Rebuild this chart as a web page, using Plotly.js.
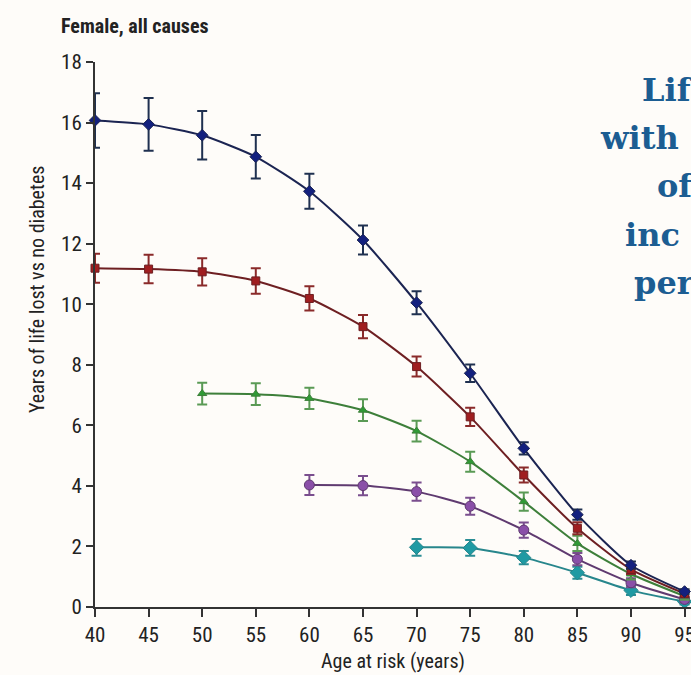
<!DOCTYPE html>
<html>
<head>
<meta charset="utf-8">
<script src="https://cdn.plot.ly/plotly-3.0.1.min.js"></script>
<style>
  html, body { margin: 0; padding: 0; background: #fefcf9; }
  #chart { width: 691px; height: 675px; }
</style>
</head>
<body>
<div id="chart"></div>
<script>
// Years of life lost vs no diabetes, women, by age at diabetes onset
const ageAll = [40, 45, 50, 55, 60, 65, 70, 75, 80, 85, 90, 95];

const onset40 = [16.07, 15.94, 15.58, 14.87, 13.73, 12.12, 10.05, 7.72, 5.24, 3.05, 1.38, 0.51];
const onset40Err = [0.90, 0.87, 0.80, 0.72, 0.58, 0.48, 0.38, 0.29, 0.20, 0.17, 0.12, 0.08];

const onset40b = [11.19, 11.16, 11.07, 10.77, 10.19, 9.26, 7.94, 6.28, 4.36, 2.60, 1.24, 0.44];
const onset40bErr = [0.48, 0.47, 0.45, 0.42, 0.40, 0.38, 0.33, 0.30, 0.25, 0.20, 0.15, 0.10];

const ageFrom50 = [50, 55, 60, 65, 70, 75, 80, 85, 90, 95];
const onset50 = [7.05, 7.03, 6.89, 6.50, 5.81, 4.80, 3.48, 2.10, 1.09, 0.36];
const onset50Err = [0.36, 0.36, 0.35, 0.36, 0.34, 0.33, 0.30, 0.25, 0.18, 0.12];

const ageFrom60 = [60, 65, 70, 75, 80, 85, 90, 95];
const onset60 = [4.03, 4.01, 3.81, 3.33, 2.54, 1.58, 0.80, 0.25];
const onset60Err = [0.33, 0.32, 0.30, 0.28, 0.25, 0.20, 0.15, 0.10];

const ageFrom70 = [70, 75, 80, 85, 90, 95];
const onset70 = [1.97, 1.95, 1.63, 1.13, 0.55, 0.18];
const onset70Err = [0.28, 0.26, 0.22, 0.20, 0.15, 0.10];

const xTicks = [40, 45, 50, 55, 60, 65, 70, 75, 80, 85, 90, 95];
const yTicks = [0, 2, 4, 6, 8, 10, 12, 14, 16, 18];

const sideText = ["Lif", "with", "of", "inc", "per"];

const narrow = "Liberation Sans Narrow, Arial Narrow, Roboto Condensed, Arial, sans-serif";

function series(x, y, err, lineColor, markerColor, barColor, symbol, size) {
  return {
    x: x, y: y, type: "scatter", mode: "lines+markers",
    cliponaxis: false,
    line: { color: lineColor, width: 2, shape: "spline", smoothing: 0.6 },
    marker: { color: markerColor, symbol: symbol, size: size,
              line: { color: lineColor, width: 1 } },
    error_y: { type: "data", array: err, visible: true,
               color: barColor, thickness: 2, width: 5 },
    showlegend: false, hoverinfo: "x+y"
  };
}

const traces = [
  series(ageFrom70, onset70, onset70Err, "#27868c", "#1f9aa3", "#2a8d95", "diamond", 11),
  series(ageFrom60, onset60, onset60Err, "#5f3a70", "#8a4fa8", "#7a4e8e", "circle", 10),
  series(ageFrom50, onset50, onset50Err, "#3d7f3a", "#2f9a35", "#5a9a55", "triangle-up", 8),
  series(ageAll, onset40b, onset40bErr, "#6e1f22", "#a01e20", "#8a2a2a", "square", 8),
  series(ageAll, onset40, onset40Err, "#1b2452", "#13207e", "#1f3050", "diamond", 9)
];

// pixel helpers for the plot area (l=95, width 596; top=62, height 545)
const px = v => (v - 95) / 596;
const py = v => (607 - v) / 545;

const annotations = [
  { xref: "paper", yref: "paper", x: px(59), y: py(12), xanchor: "left", yanchor: "top",
    text: "<b>Female, all causes</b>", showarrow: false,
    font: { family: narrow, size: 20, color: "#222" } },
  { xref: "paper", yref: "paper", x: px(37), y: py(290), xanchor: "center", yanchor: "middle",
    text: "Years of life lost vs no diabetes", textangle: -90, showarrow: false,
    font: { family: narrow, size: 20, color: "#222" } }
];

const sideX = [640, 598, 655, 623, 632];
const sideY = [90, 138, 186, 235, 283];
sideText.forEach((t, i) => {
  annotations.push({
    xref: "paper", yref: "paper",
    x: px(sideX[i]), y: py(sideY[i]),
    xanchor: "left", yanchor: "middle", text: "<b>" + t + "</b>", showarrow: false,
    font: { family: "DejaVu Serif, serif", size: 32, color: "#1c5d92" }
  });
});

const layout = {
  width: 691, height: 675,
  margin: { l: 95, r: 0, t: 62, b: 68 },
  paper_bgcolor: "#fefcf9", plot_bgcolor: "#fefcf9",
  xaxis: {
    range: [40, 95.6], tickvals: xTicks, ticktext: xTicks.map(String),
    ticklabeloverflow: "allow",
    showgrid: false, zeroline: false,
    showline: true, linecolor: "#333", linewidth: 2,
    ticks: "outside", ticklen: 8, tickwidth: 2, tickcolor: "#333",
    tickfont: { family: narrow, size: 21, color: "#222" },
    title: { text: "Age at risk (years)", standoff: 8,
             font: { family: narrow, size: 20, color: "#222" } }
  },
  yaxis: {
    range: [0, 18], tickvals: yTicks, ticktext: yTicks.map(String),
    showgrid: false, zeroline: false,
    showline: true, linecolor: "#333", linewidth: 2,
    ticks: "outside", ticklen: 7, tickwidth: 2, tickcolor: "#333",
    tickfont: { family: narrow, size: 21, color: "#222" }
  },
  annotations: annotations
};

Plotly.newPlot("chart", traces, layout, { displayModeBar: false, staticPlot: true });
</script>
</body>
</html>
